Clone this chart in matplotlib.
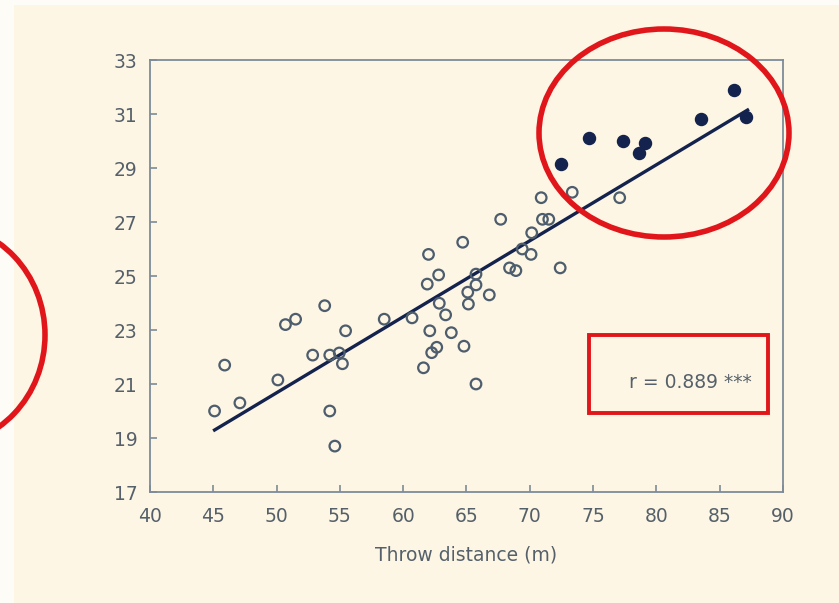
import numpy as np
import matplotlib
matplotlib.use('Agg')
import matplotlib.pyplot as plt
import matplotlib.patches as mpatch

# throw distance (m) vs y-value
open_x = [45.1, 45.9, 47.1, 50.1, 50.7, 51.5, 52.85, 53.8, 54.2, 54.2, 54.6,
          54.95, 55.2, 55.45, 58.5, 60.7, 61.6, 62.1, 62.25, 62.65, 61.9, 62.8,
          62.0, 62.85, 63.35, 63.8, 64.8, 65.75, 64.7, 65.15, 65.1, 65.75, 65.75,
          66.8, 67.7, 68.4, 68.9, 69.4, 70.1, 70.15, 70.9, 71.0, 71.5, 72.4,
          73.35, 77.1]
open_y = [20.0, 21.7, 20.3, 21.15, 23.2, 23.4, 22.07, 23.9, 22.07, 20.0, 18.7,
          22.15, 21.75, 22.97, 23.4, 23.45, 21.6, 22.97, 22.16, 22.36, 24.7, 25.04,
          25.8, 23.99, 23.56, 22.9, 22.4, 21.0, 26.25, 23.96, 24.4, 24.67, 25.07,
          24.3, 27.1, 25.3, 25.2, 26.0, 25.8, 26.6, 27.9, 27.1, 27.1, 25.3,
          28.1, 27.9]
filled_x = [72.5, 74.7, 77.4, 79.1, 78.6, 83.5, 86.1, 87.1]
filled_y = [29.15, 30.1, 30.0, 29.94, 29.54, 30.8, 31.9, 30.9]

# regression line
fit_slope = 0.2815
fit_icpt = 6.6
fit_range = [45.1, 87.2]

xticks = list(range(40, 91, 5))
yticks = list(range(17, 34, 2))
r_text = 'r = 0.889 ***'

bg = '#fdf6e4'
grey = '#55606a'
navy = '#14234d'
red = '#e0161b'

W, H = 839, 603
fig = plt.figure(figsize=(W / 100, H / 100), dpi=100, facecolor=bg)
# thin whitish edges of the slide screenshot
fig.patches.append(mpatch.Rectangle((0, 0), 14 / W, 1, transform=fig.transFigure,
                                    facecolor='#fefcf7', edgecolor='none', zorder=0))
fig.patches.append(mpatch.Rectangle((0, 1 - 5 / H), 1, 5 / H, transform=fig.transFigure,
                                    facecolor='#fefcf7', edgecolor='none', zorder=0))

ax = fig.add_axes([150 / W, 1 - 492 / H, (783 - 150) / W, (492 - 60) / H])
ax.set_facecolor('none')

lx = np.array(fit_range)
ax.plot(lx, fit_slope * lx + fit_icpt, color=navy, lw=2.4, zorder=2)
ax.scatter(open_x, open_y, s=58, facecolors='none', edgecolors='#4d5d6e',
           linewidths=1.6, zorder=3)
ax.scatter(filled_x, filled_y, s=75, color=navy, edgecolors=navy, zorder=3)

ax.set_xlim(40, 90)
ax.set_ylim(17, 33)
ax.set_xticks(xticks)
ax.set_yticks(yticks)
for sp in ax.spines.values():
    sp.set_color('#7d8b98')
    sp.set_linewidth(1.3)
ax.tick_params(direction='in', length=5, width=1.2, color='#7d8b98',
               labelcolor=grey, labelsize=13.5)
ax.tick_params(axis='x', pad=11)
ax.tick_params(axis='y', pad=9)
ax.set_xlabel('Throw distance (m)', fontsize=13.5, color=grey, labelpad=14)

# red annotations
fig.patches.append(mpatch.Ellipse((664 / W, 1 - 133 / H), 250 / W, 208 / H,
                                  transform=fig.transFigure, fill=False,
                                  edgecolor=red, lw=4, zorder=5))
fig.patches.append(mpatch.Ellipse((-60 / W, 1 - 335 / H), 210 / W, 222 / H,
                                  transform=fig.transFigure, fill=False,
                                  edgecolor=red, lw=4, zorder=5))
fig.patches.append(mpatch.Rectangle((589 / W, 1 - 413 / H), 179 / W, 78 / H,
                                    transform=fig.transFigure, fill=False,
                                    edgecolor=red, lw=2.8, zorder=5))
fig.text(690 / W, 1 - 382 / H, r_text, ha='center', va='center',
         fontsize=13.5, color=grey)

fig.savefig('out.png', dpi=100, facecolor=bg)
